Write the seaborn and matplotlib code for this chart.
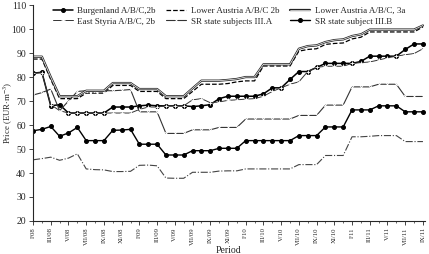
import numpy as np
import pandas as pd
import seaborn as sns
import matplotlib
matplotlib.use("Agg")
import matplotlib.pyplot as plt
import matplotlib.patheffects as pe

# monthly data I/08 .. IX/11 (45 months)
roman = ["I", "II", "III", "IV", "V", "VI", "VII", "VIII", "IX", "X", "XI", "XII"]
periods = ["%s/%02d" % (roman[i % 12], 8 + i // 12) for i in range(45)]

burgenland = [81.6, 82.0, 68.0, 68.5, 65.0, 65.0, 65.0, 65.0, 65.0, 67.5, 67.5, 67.5,
              68.0, 68.3, 68.0, 68.0, 68.0, 68.0, 67.7, 68.0, 68.5, 71.0, 72.0, 72.0,
              72.0, 72.0, 73.0, 75.5, 75.5, 79.0, 82.3, 82.3, 84.0, 85.7, 85.7, 85.7,
              85.7, 86.5, 88.7, 88.7, 88.7, 88.7, 91.5, 93.8, 93.8]
lower_austria_2b = [87.5, 87.5, 79.0, 71.0, 71.0, 71.0, 73.3, 73.3, 73.3, 76.5, 76.5, 76.5,
                    74.0, 74.0, 74.0, 71.0, 71.0, 71.0, 74.0, 77.0, 77.0, 77.0, 77.3, 78.0,
                    78.4, 78.4, 84.6, 84.6, 84.6, 84.6, 90.8, 91.5, 91.8, 93.6, 94.0, 94.2,
                    95.9, 96.6, 98.8, 98.8, 98.8, 98.8, 98.8, 98.8, 100.9]
lower_austria_3a = [88.5, 88.5, 80.0, 72.0, 72.0, 72.0, 74.3, 74.3, 74.3, 77.5, 77.5, 77.5,
                    75.0, 75.0, 75.0, 72.0, 72.0, 72.0, 75.3, 78.5, 78.5, 78.5, 78.8, 79.2,
                    80.0, 80.0, 85.3, 85.3, 85.3, 85.3, 91.8, 92.9, 93.2, 94.6, 95.4, 95.7,
                    97.1, 97.8, 99.8, 99.8, 99.8, 99.8, 99.8, 99.8, 101.5]
east_styria = [81.6, 81.8, 68.5, 66.0, 65.0, 65.0, 65.0, 65.0, 65.0, 65.0, 65.0, 65.0,
               66.5, 67.5, 67.5, 68.0, 68.0, 68.0, 70.5, 71.0, 69.3, 69.6, 70.3, 70.5,
               70.8, 71.0, 72.0, 74.0, 75.5, 77.0, 78.0, 82.3, 84.0, 84.5, 84.5, 84.5,
               85.7, 86.0, 86.3, 87.1, 88.0, 88.7, 89.3, 89.8, 91.8]
sr_3a = [72.5, 73.5, 75.0, 66.0, 70.0, 74.0, 74.3, 74.3, 74.3, 74.3, 74.5, 74.8,
         65.5, 65.5, 65.5, 56.5, 56.5, 56.5, 58.0, 58.0, 58.0, 59.0, 59.0, 59.0,
         62.5, 62.5, 62.5, 62.5, 62.5, 62.5, 64.0, 64.0, 64.0, 68.3, 68.3, 68.3,
         75.9, 75.9, 75.9, 77.0, 77.0, 77.0, 71.9, 71.9, 71.9]
sr_3b = [57.6, 58.2, 59.4, 55.3, 56.7, 59.0, 53.5, 53.5, 53.5, 57.8, 57.9, 58.2,
         52.0, 52.0, 52.0, 47.5, 47.5, 47.5, 49.3, 49.3, 49.3, 50.3, 50.3, 50.3,
         53.5, 53.5, 53.5, 53.5, 53.5, 53.5, 55.6, 55.6, 55.6, 59.2, 59.2, 59.2,
         66.3, 66.3, 66.3, 68.0, 68.0, 68.0, 65.5, 65.5, 65.5]
other = [45.5, 46.0, 46.6, 45.3, 46.2, 48.0, 41.7, 41.4, 41.3, 40.6, 40.6, 40.7,
         43.2, 43.3, 43.0, 37.9, 37.8, 37.8, 40.3, 40.3, 40.3, 40.8, 40.9, 40.9,
         41.7, 41.7, 41.7, 41.7, 41.7, 41.7, 43.5, 43.5, 43.5, 47.3, 47.3, 47.3,
         55.1, 55.1, 55.3, 55.6, 55.6, 55.6, 53.1, 53.1, 53.1]

tick_labels = periods[::2]

sns.set_style("ticks")
plt.rcParams['font.family'] = ['Liberation Serif', 'DejaVu Serif']
plt.rcParams['mathtext.fontset'] = 'stix'

m = np.arange(len(periods))
fig, ax = plt.subplots(figsize=(4.29, 2.54), dpi=100)
fig.subplots_adjust(left=0.077, right=0.99, bottom=0.13, top=0.98)

sns.lineplot(x=m, y=burgenland, ax=ax, color="black", lw=1.1, marker="o", ms=2.8,
             mec="black", label="Burgenland A/B/C,2b")
sns.lineplot(x=m, y=east_styria, ax=ax, color="#333333", lw=0.7, marker="+", ms=3.5,
             mew=0.6, label="East Styria A/B/C, 2b")
sns.lineplot(x=m, y=lower_austria_2b, ax=ax, color="black", lw=0.9, linestyle="--",
             label="Lower Austria A/B/C 2b")
sns.lineplot(x=m, y=sr_3a, ax=ax, color="#333333", lw=0.8, marker="x", ms=2.0,
             mew=0.6, label="SR state subjects III.A")
sns.lineplot(x=m, y=lower_austria_3a, ax=ax, color="white", lw=0.5,
             path_effects=[pe.Stroke(linewidth=1.6, foreground="#222222"), pe.Normal()],
             label="Lower Austria A/B/C, 3a")
sns.lineplot(x=m, y=sr_3b, ax=ax, color="black", lw=1.0, marker="o", ms=2.8,
             mec="black", label="SR state subject III.B")
sns.lineplot(x=m, y=other, ax=ax, color="#444444", lw=0.8, linestyle="-.")

ax.set_xlim(0, 44.2)
ax.set_ylim(20, 110)
ax.set_yticks(range(20, 111, 10))
ax.set_xticks(m[::2])
ax.set_xticklabels(tick_labels, rotation=90, fontsize=4.8)
ax.set_xticks(m[1::2], minor=True)
ax.tick_params(axis="y", labelsize=7, length=3, width=0.6, pad=2)
ax.tick_params(axis="x", which="major", length=3, width=0.6, pad=1.5)
ax.tick_params(axis="x", which="minor", length=1.5, width=0.5)
ax.set_ylabel(r"Price (EUR$\cdot$m$^{-3}$)", fontsize=6.3)
ax.yaxis.set_label_coords(-0.045, 0.5)
ax.set_xlabel("Period", fontsize=7)
ax.xaxis.set_label_coords(0.5, -0.118)
for s in ["left", "bottom"]:
    ax.spines[s].set_linewidth(0.8)
sns.despine(ax=ax)

ax.legend(ncol=3, loc="upper center", bbox_to_anchor=(0.5, 1.03), frameon=False,
          fontsize=6.5, handlelength=2.2, columnspacing=1.2, labelspacing=0.25,
          handletextpad=0.5)

fig.savefig("out.png", dpi=100)
